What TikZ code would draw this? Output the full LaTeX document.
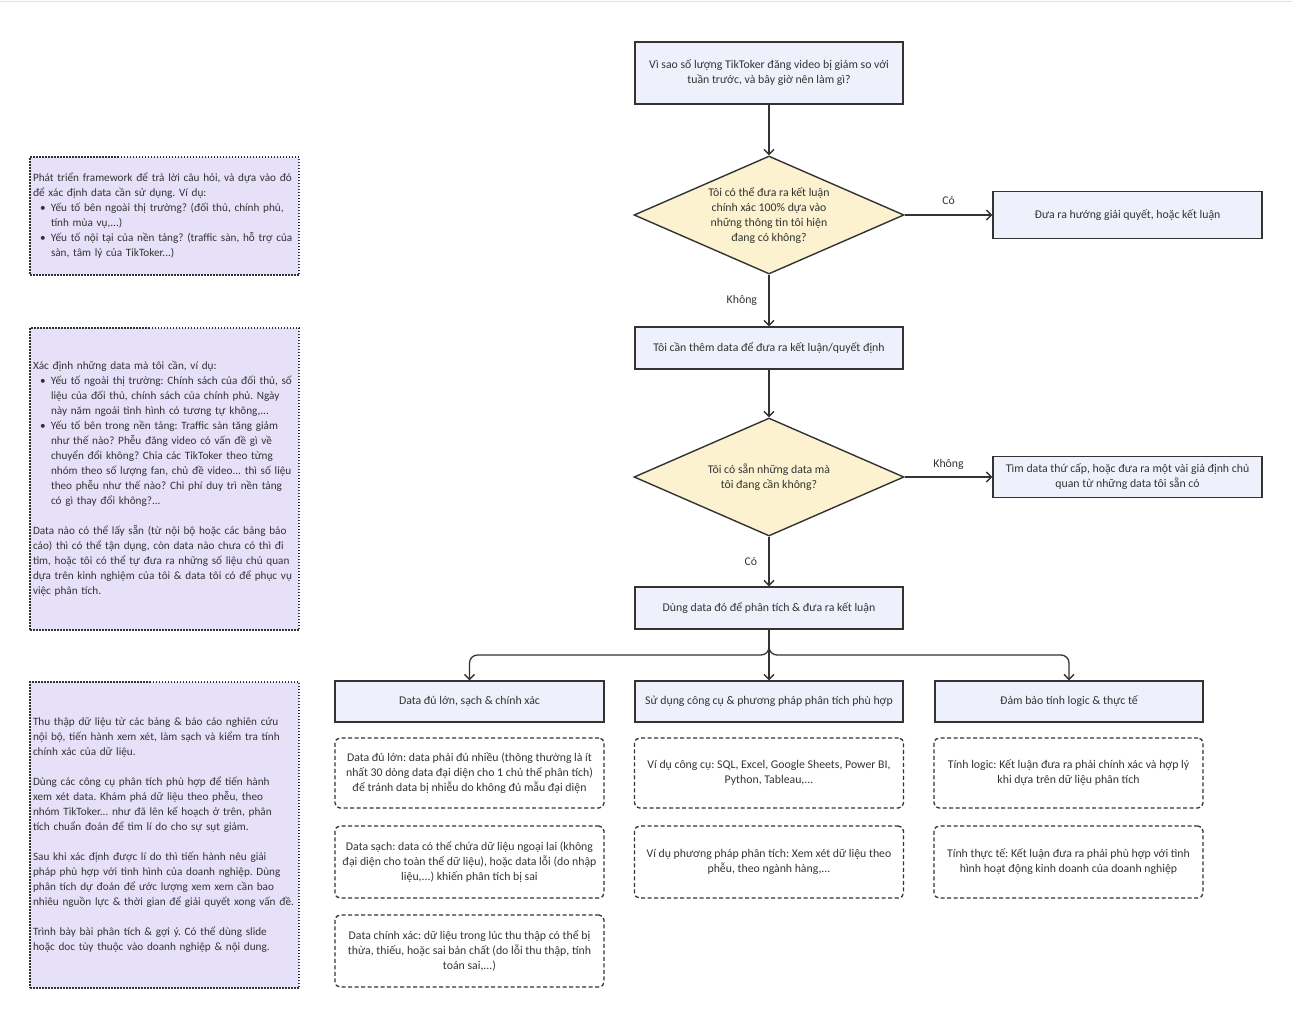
\documentclass[tikz,border=0pt]{standalone}
\usepackage{fontspec}
\setmainfont{Carlito}
\frenchspacing
\usetikzlibrary{shapes.geometric,arrows.meta}
\definecolor{boxfill}{HTML}{EEF1FB}
\definecolor{decfill}{HTML}{FCF2CF}
\definecolor{notefill}{HTML}{E6E1F8}
\definecolor{ink}{HTML}{333333}
\newcommand{\bul}{\hspace*{7pt}\makebox[11pt][l]{\textbullet}}
\newcommand{\cont}{\hspace*{18pt}}
\tikzset{
	box/.style = {draw=ink, line width=1.4pt, fill=boxfill, align=center, inner sep=2pt},
	decision/.style = {diamond, draw=ink, line width=1.4pt, fill=decfill, align=center,
		aspect=2.3, inner sep=0pt, minimum width=270pt, minimum height=118pt},
	note/.style = {draw=ink, line width=1.3pt, dash pattern=on 1.5pt off 1.5pt,
		fill=notefill, align=left, text width=263pt, inner xsep=3pt,
		font=\fontsize{11.2}{15}\selectfont},
	detail/.style = {draw=ink, line width=1.3pt, dash pattern=on 4pt off 2.5pt,
		rounded corners=5pt, align=center, minimum width=269pt, inner sep=2pt},
	arr/.style = {draw=ink, line width=1.3pt, -{Straight Barb[length=5pt,width=10pt]}},
}

\begin{document}
\begin{tikzpicture}[x=1pt, y=-1pt, font=\fontsize{11.8}{15}\selectfont, text=ink]
	\useasboundingbox (0,0) rectangle (1292,1012);
	\draw [gray!25, line width=1pt] (0,1) -- (1292,1);

	% main column
	\node [box, minimum width=268pt, minimum height=62pt] (q) at (769,73)
		{Vì sao số lượng TikToker đăng video bị giảm so với\\tuần trước, và bây giờ nên làm gì?};
	\node [decision] (d1) at (769,215)
		{Tôi có thể đưa ra kết luận\\chính xác 100\% dựa vào\\những thông tin tôi hiện\\đang có không?};
	\node [box, minimum width=269pt, minimum height=47pt] (yes1) at (1127.5,215)
		{Đưa ra hướng giải quyết, hoặc kết luận};
	\node [box, minimum width=268pt, minimum height=42pt] (need) at (769,348)
		{Tôi cần thêm data để đưa ra kết luận/quyết định};
	\node [decision] (d2) at (769,477)
		{Tôi có sẵn những data mà\\tôi đang cần không?};
	\node [box, minimum width=269pt, minimum height=41pt] (no2) at (1127.5,477)
		{Tìm data thứ cấp, hoặc đưa ra một vài giả định chủ\\quan từ những data tôi sẵn có};
	\node [box, minimum width=268pt, minimum height=42pt] (use) at (769,608)
		{Dùng data đó để phân tích \& đưa ra kết luận};

	% three criteria
	\node [box, minimum width=269pt, minimum height=41pt] (c1) at (469.5,701.5)
		{Data đủ lớn, sạch \& chính xác};
	\node [box, minimum width=268pt, minimum height=41pt] (c2) at (769,701.5)
		{Sử dụng công cụ \& phương pháp phân tích phù hợp};
	\node [box, minimum width=268pt, minimum height=41pt] (c3) at (1069,701.5)
		{Đảm bảo tính logic \& thực tế};

	\node [detail, minimum height=70pt] (c1a) at (469.5,773)
		{Data đủ lớn: data phải đủ nhiều (thông thường là ít\\nhất 30 dòng data đại diện cho 1 chủ thể phân tích)\\để tránh data bị nhiễu do không đủ mẫu đại diện};
	\node [detail, minimum height=72pt] (c1b) at (469.5,862)
		{Data sạch: data có thể chứa dữ liệu ngoại lai (không\\đại diện cho toàn thể dữ liệu), hoặc data lỗi (do nhập\\liệu,...) khiến phân tích bị sai};
	\node [detail, minimum height=72pt] (c1c) at (469.5,951)
		{Data chính xác: dữ liệu trong lúc thu thập có thể bị\\thừa, thiếu, hoặc sai bản chất (do lỗi thu thập, tính\\toán sai,...)};
	\node [detail, minimum height=70pt] (c2a) at (769,773)
		{Ví dụ công cụ: SQL, Excel, Google Sheets, Power BI,\\Python, Tableau,...};
	\node [detail, minimum height=72pt] (c2b) at (769,862)
		{Ví dụ phương pháp phân tích: Xem xét dữ liệu theo\\phễu, theo ngành hàng,...};
	\node [detail, minimum height=70pt] (c3a) at (1068.5,773)
		{Tính logic: Kết luận đưa ra phải chính xác và hợp lý\\khi dựa trên dữ liệu phân tích};
	\node [detail, minimum height=72pt] (c3b) at (1068.5,862)
		{Tính thực tế: Kết luận đưa ra phải phù hợp với tình\\hình hoạt động kinh doanh của doanh nghiệp};

	% notes on the left
	\node [note, minimum height=118pt] (n1) at (164.5,216)
		{Phát triển framework để trả lời câu hỏi, và dựa vào đó\\
		để xác định data cần sử dụng. Ví dụ:\\
		\bul Yếu tố bên ngoài thị trường? (đối thủ, chính phủ,\\
		\cont tính mùa vụ,...)\\
		\bul Yếu tố nội tại của nền tảng? (traffic sàn, hỗ trợ của\\
		\cont sàn, tâm lý của TikToker...)};
	\node [note, minimum height=302pt] (n2) at (164.5,479)
		{Xác định những data mà tôi cần, ví dụ:\\
		\bul Yếu tố ngoài thị trường: Chính sách của đối thủ, số\\
		\cont liệu của đối thủ, chính sách của chính phủ. Ngày\\
		\cont này năm ngoái tình hình có tương tự không,...\\
		\bul Yếu tố bên trong nền tảng: Traffic sàn tăng giảm\\
		\cont như thế nào? Phễu đăng video có vấn đề gì về\\
		\cont chuyển đổi không? Chia các TikToker theo từng\\
		\cont nhóm theo số lượng fan, chủ đề video... thì số liệu\\
		\cont theo phễu như thế nào? Chi phí duy trì nền tảng\\
		\cont có gì thay đổi không?...\\[15pt]
		Data nào có thể lấy sẵn (từ nội bộ hoặc các bảng báo\\
		cáo) thì có thể tận dụng, còn data nào chưa có thì đi\\
		tìm, hoặc tôi có thể tự đưa ra những số liệu chủ quan\\
		dựa trên kinh nghiệm của tôi \& data tôi có để phục vụ\\
		việc phân tích.};
	\node [note, minimum height=306pt] (n3) at (164.5,835)
		{Thu thập dữ liệu từ các bảng \& báo cáo nghiên cứu\\
		nội bộ, tiến hành xem xét, làm sạch và kiểm tra tính\\
		chính xác của dữ liệu.\\[15pt]
		Dùng các công cụ phân tích phù hợp để tiến hành\\
		xem xét data. Khám phá dữ liệu theo phễu, theo\\
		nhóm TikToker... như đã lên kế hoạch ở trên, phân\\
		tích chuẩn đoán để tìm lí do cho sự sụt giảm.\\[15pt]
		Sau khi xác định được lí do thì tiến hành nêu giải\\
		pháp phù hợp với tình hình của doanh nghiệp. Dùng\\
		phân tích dự đoán để ước lượng xem xem cần bao\\
		nhiêu nguồn lực \& thời gian để giải quyết xong vấn đề.\\[15pt]
		Trình bày bài phân tích \& gợi ý. Có thể dùng slide\\
		hoặc doc tùy thuộc vào doanh nghiệp \& nội dung.};

	% connectors
	\draw [arr] (q) -- (d1);
	\draw [arr] (d1) -- node [above, yshift=6pt] {Có} (yes1);
	\draw [arr] (d1) -- node [left, xshift=-8pt] {Không} (need);
	\draw [arr] (need) -- (d2);
	\draw [arr] (d2) -- node [above, yshift=3pt] {Không} (no2);
	\draw [arr] (d2) -- node [left, xshift=-8pt] {Có} (use);
	\coordinate (split) at (769,655);
	\draw [arr, rounded corners=8pt] (use) -- (split) -| (c1);
	\draw [arr, rounded corners=8pt] (use) -- (split) -| (c3);
	\draw [arr] (use) -- (c2);
\end{tikzpicture}
\end{document}
